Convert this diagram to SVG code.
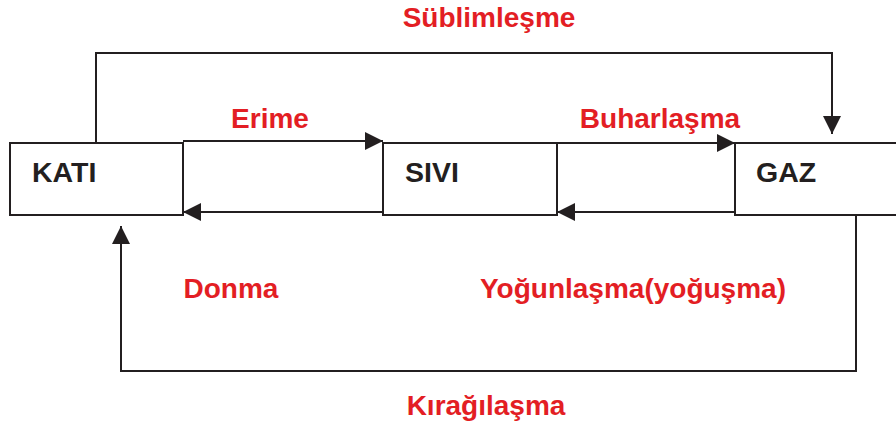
<svg xmlns="http://www.w3.org/2000/svg" width="896" height="430" viewBox="0 0 896 430">
  <style>
    .box { fill: #ffffff; stroke: #231f20; stroke-width: 2; }
    .state { font-family: "Liberation Sans", Arial, sans-serif; font-weight: bold; font-size: 28.5px; fill: #231f20; }
    .label { font-family: "Liberation Sans", Arial, sans-serif; font-weight: bold; font-size: 28px; fill: #e31e24; }
    .conn { fill: none; stroke: #231f20; stroke-width: 2; }
  </style>
  <defs>
    <marker id="arrow" viewBox="0 0 10 10" refX="10" refY="5" markerWidth="18" markerHeight="18" markerUnits="userSpaceOnUse" orient="auto">
      <path d="M0,0 L10,5 L0,10 Z" fill="#231f20"/>
    </marker>
  </defs>
  <rect width="896" height="430" fill="#ffffff"/>

  <g id="connectors">
    <!-- Süblimleşme: KATI to GAZ over the top -->
    <polyline class="conn" points="96,143 96,53 832,53 832,134" marker-end="url(#arrow)"/>
    <!-- Kırağılaşma: GAZ to KATI along the bottom -->
    <polyline class="conn" points="856,215 856,371 121,371 121,226" marker-end="url(#arrow)"/>
    <!-- Erime -->
    <line class="conn" x1="183" y1="141" x2="383" y2="141" marker-end="url(#arrow)"/>
    <!-- Donma -->
    <line class="conn" x1="383" y1="212" x2="183" y2="212" marker-end="url(#arrow)"/>
    <!-- Buharlaşma -->
    <line class="conn" x1="557" y1="143" x2="735" y2="143" marker-end="url(#arrow)"/>
    <!-- Yoğunlaşma -->
    <line class="conn" x1="735" y1="212" x2="557" y2="212" marker-end="url(#arrow)"/>
  </g>

  <g id="kati">
    <rect class="box" x="10" y="143" width="173" height="72"/>
    <text class="state" x="32" y="182">KATI</text>
  </g>
  <g id="sivi">
    <rect class="box" x="383" y="143" width="174" height="72"/>
    <text class="state" x="405" y="182">SIVI</text>
  </g>
  <g id="gaz">
    <rect class="box" x="735" y="143" width="175" height="72"/>
    <text class="state" x="756" y="182">GAZ</text>
  </g>

  <g id="labels">
    <text class="label" x="489" y="27" text-anchor="middle">Süblimleşme</text>
    <text class="label" x="270" y="128" text-anchor="middle">Erime</text>
    <text class="label" x="660" y="128" text-anchor="middle">Buharlaşma</text>
    <text class="label" x="231" y="298" text-anchor="middle">Donma</text>
    <text class="label" x="633" y="298" text-anchor="middle">Yoğunlaşma(yoğuşma)</text>
    <text class="label" x="486" y="415" text-anchor="middle">Kırağılaşma</text>
  </g>
</svg>
